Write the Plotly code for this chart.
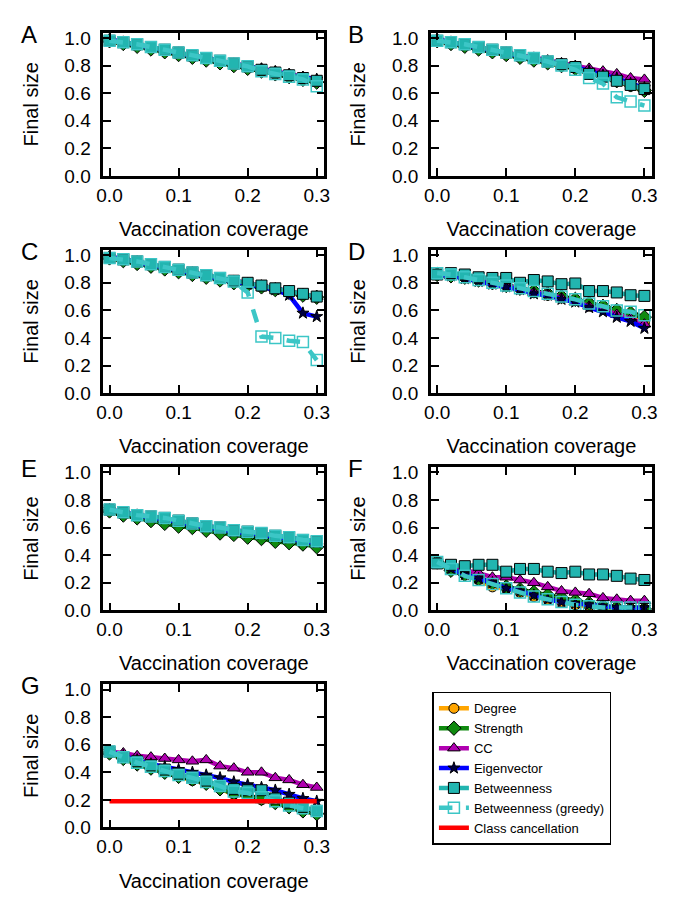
import plotly.graph_objects as go

coverage = [0.00, 0.02, 0.04, 0.06, 0.08, 0.10, 0.12, 0.14, 0.16, 0.18, 0.20, 0.22, 0.24, 0.26, 0.28, 0.30]

# Panel A
A_degree = [0.98, 0.96, 0.945, 0.925, 0.905, 0.885, 0.865, 0.845, 0.825, 0.805, 0.785, 0.765, 0.745, 0.725, 0.705, 0.69]
A_strength = [0.98, 0.96, 0.94, 0.92, 0.90, 0.88, 0.86, 0.84, 0.82, 0.80, 0.78, 0.76, 0.74, 0.72, 0.70, 0.68]
A_cc = [0.99, 0.97, 0.955, 0.935, 0.915, 0.895, 0.875, 0.855, 0.835, 0.815, 0.795, 0.78, 0.76, 0.74, 0.72, 0.70]
A_eigen = [0.99, 0.97, 0.95, 0.93, 0.91, 0.89, 0.87, 0.85, 0.83, 0.81, 0.79, 0.775, 0.755, 0.735, 0.715, 0.70]
A_betw = [0.98, 0.97, 0.955, 0.935, 0.915, 0.895, 0.875, 0.855, 0.835, 0.815, 0.795, 0.77, 0.75, 0.73, 0.71, 0.69]
A_greedy = [0.98, 0.97, 0.955, 0.935, 0.915, 0.895, 0.875, 0.855, 0.835, 0.815, 0.795, 0.76, 0.74, 0.72, 0.70, 0.65]

# Panel B
B_degree = [0.98, 0.96, 0.94, 0.92, 0.90, 0.88, 0.86, 0.84, 0.82, 0.80, 0.78, 0.75, 0.72, 0.69, 0.65, 0.62]
B_strength = [0.98, 0.96, 0.94, 0.92, 0.90, 0.88, 0.86, 0.84, 0.82, 0.80, 0.78, 0.75, 0.72, 0.69, 0.66, 0.62]
B_cc = [0.99, 0.97, 0.955, 0.935, 0.915, 0.895, 0.875, 0.86, 0.84, 0.82, 0.80, 0.78, 0.76, 0.74, 0.71, 0.70]
B_eigen = [0.99, 0.97, 0.95, 0.93, 0.91, 0.89, 0.87, 0.85, 0.83, 0.81, 0.79, 0.76, 0.73, 0.71, 0.67, 0.64]
B_betw = [0.98, 0.97, 0.955, 0.935, 0.915, 0.895, 0.875, 0.855, 0.83, 0.81, 0.79, 0.74, 0.72, 0.69, 0.66, 0.63]
B_greedy = [0.98, 0.97, 0.955, 0.935, 0.915, 0.895, 0.875, 0.855, 0.83, 0.80, 0.77, 0.71, 0.67, 0.57, 0.54, 0.51]

# Panel C
C_degree = [0.98, 0.96, 0.945, 0.925, 0.905, 0.885, 0.865, 0.845, 0.825, 0.805, 0.79, 0.775, 0.755, 0.735, 0.715, 0.70]
C_strength = [0.98, 0.96, 0.94, 0.92, 0.90, 0.88, 0.86, 0.84, 0.82, 0.80, 0.785, 0.77, 0.75, 0.73, 0.71, 0.695]
C_cc = [0.99, 0.97, 0.955, 0.935, 0.915, 0.895, 0.875, 0.855, 0.835, 0.815, 0.80, 0.78, 0.76, 0.74, 0.72, 0.70]
C_eigen = [0.99, 0.97, 0.95, 0.93, 0.91, 0.89, 0.87, 0.85, 0.83, 0.81, 0.79, 0.775, 0.75, 0.71, 0.58, 0.555]
C_betw = [0.98, 0.97, 0.955, 0.935, 0.915, 0.895, 0.875, 0.855, 0.835, 0.815, 0.80, 0.78, 0.76, 0.74, 0.72, 0.70]
C_greedy = [0.98, 0.97, 0.955, 0.935, 0.915, 0.895, 0.875, 0.855, 0.835, 0.81, 0.73, 0.41, 0.40, 0.38, 0.37, 0.24]

# Panel D
D_degree = [0.86, 0.85, 0.84, 0.82, 0.80, 0.78, 0.76, 0.73, 0.71, 0.69, 0.67, 0.63, 0.61, 0.58, 0.55, 0.51]
D_strength = [0.86, 0.85, 0.84, 0.82, 0.80, 0.78, 0.76, 0.74, 0.72, 0.70, 0.68, 0.65, 0.63, 0.60, 0.58, 0.55]
D_cc = [0.86, 0.85, 0.84, 0.82, 0.80, 0.78, 0.76, 0.73, 0.72, 0.69, 0.66, 0.63, 0.61, 0.57, 0.54, 0.50]
D_eigen = [0.86, 0.85, 0.83, 0.81, 0.79, 0.77, 0.75, 0.72, 0.71, 0.68, 0.66, 0.62, 0.59, 0.55, 0.52, 0.47]
D_betw = [0.86, 0.87, 0.86, 0.84, 0.835, 0.835, 0.80, 0.82, 0.81, 0.79, 0.795, 0.74, 0.74, 0.73, 0.71, 0.705]
D_greedy = [0.87, 0.86, 0.84, 0.82, 0.80, 0.78, 0.76, 0.74, 0.72, 0.70, 0.68, 0.65, 0.63, 0.60, 0.59, 0.565]

# Panel E
E_degree = [0.72, 0.70, 0.68, 0.66, 0.64, 0.62, 0.61, 0.59, 0.57, 0.56, 0.54, 0.53, 0.51, 0.50, 0.48, 0.47]
E_strength = [0.72, 0.69, 0.67, 0.65, 0.63, 0.61, 0.60, 0.58, 0.56, 0.55, 0.53, 0.52, 0.50, 0.49, 0.48, 0.46]
E_cc = [0.73, 0.71, 0.69, 0.68, 0.67, 0.65, 0.63, 0.61, 0.60, 0.58, 0.57, 0.56, 0.54, 0.53, 0.51, 0.50]
E_eigen = [0.73, 0.71, 0.69, 0.67, 0.66, 0.64, 0.62, 0.60, 0.59, 0.57, 0.56, 0.55, 0.53, 0.52, 0.50, 0.49]
E_betw = [0.73, 0.71, 0.69, 0.68, 0.67, 0.65, 0.63, 0.61, 0.60, 0.58, 0.57, 0.56, 0.54, 0.53, 0.51, 0.50]
E_greedy = [0.73, 0.71, 0.69, 0.68, 0.67, 0.65, 0.63, 0.61, 0.60, 0.58, 0.57, 0.56, 0.54, 0.53, 0.51, 0.50]

# Panel F
F_degree = [0.35, 0.29, 0.26, 0.22, 0.17, 0.16, 0.13, 0.10, 0.08, 0.06, 0.04, 0.03, 0.02, 0.01, 0.01, 0.01]
F_strength = [0.35, 0.29, 0.26, 0.23, 0.20, 0.17, 0.15, 0.13, 0.11, 0.09, 0.07, 0.05, 0.03, 0.02, 0.01, 0.01]
F_cc = [0.35, 0.31, 0.29, 0.27, 0.24, 0.24, 0.22, 0.20, 0.17, 0.14, 0.13, 0.12, 0.09, 0.08, 0.07, 0.07]
F_eigen = [0.35, 0.30, 0.26, 0.23, 0.20, 0.16, 0.14, 0.11, 0.08, 0.06, 0.05, 0.04, 0.03, 0.02, 0.02, 0.02]
F_betw = [0.34, 0.33, 0.32, 0.33, 0.33, 0.28, 0.30, 0.30, 0.28, 0.27, 0.28, 0.26, 0.26, 0.25, 0.23, 0.22]
F_greedy = [0.35, 0.30, 0.25, 0.22, 0.19, 0.16, 0.13, 0.10, 0.08, 0.06, 0.04, 0.03, 0.02, 0.02, 0.02, 0.02]

# Panel G
G_degree = [0.54, 0.50, 0.46, 0.43, 0.40, 0.37, 0.34, 0.32, 0.28, 0.24, 0.23, 0.20, 0.18, 0.15, 0.12, 0.10]
G_strength = [0.54, 0.50, 0.46, 0.43, 0.40, 0.37, 0.35, 0.32, 0.28, 0.25, 0.23, 0.21, 0.18, 0.15, 0.12, 0.10]
G_cc = [0.55, 0.54, 0.52, 0.51, 0.50, 0.49, 0.48, 0.49, 0.445, 0.43, 0.40, 0.40, 0.36, 0.345, 0.31, 0.29]
G_eigen = [0.55, 0.52, 0.49, 0.46, 0.44, 0.42, 0.40, 0.38, 0.36, 0.33, 0.31, 0.29, 0.27, 0.24, 0.21, 0.19]
G_betw = [0.55, 0.51, 0.48, 0.45, 0.42, 0.39, 0.36, 0.34, 0.30, 0.28, 0.27, 0.27, 0.21, 0.18, 0.15, 0.12]
G_greedy = [0.55, 0.51, 0.47, 0.44, 0.41, 0.38, 0.36, 0.33, 0.30, 0.26, 0.25, 0.22, 0.19, 0.16, 0.14, 0.12]
G_class_cancel = [0.19, 0.19, 0.19, 0.19, 0.19, 0.19, 0.19, 0.19, 0.19, 0.19, 0.19, 0.19, 0.19, 0.19, 0.19, 0.19]

panel_labels = ["A", "B", "C", "D", "E", "F", "G"]
series_names = ["Degree", "Strength", "CC", "Eigenvector", "Betweenness", "Betweenness (greedy)"]
panel_data = {
    "A": [A_degree, A_strength, A_cc, A_eigen, A_betw, A_greedy],
    "B": [B_degree, B_strength, B_cc, B_eigen, B_betw, B_greedy],
    "C": [C_degree, C_strength, C_cc, C_eigen, C_betw, C_greedy],
    "D": [D_degree, D_strength, D_cc, D_eigen, D_betw, D_greedy],
    "E": [E_degree, E_strength, E_cc, E_eigen, E_betw, E_greedy],
    "F": [F_degree, F_strength, F_cc, F_eigen, F_betw, F_greedy],
    "G": [G_degree, G_strength, G_cc, G_eigen, G_betw, G_greedy],
}
x_ticks = [0.0, 0.1, 0.2, 0.3]
y_ticks = [0.0, 0.2, 0.4, 0.6, 0.8, 1.0]

TEAL = "#22B5B0"
GREEDY = "#3CC6C6"
styles = [
    dict(line=dict(color="#FFA500", width=4.5), marker=dict(symbol="circle", size=10, color="#FFA500", line=dict(color="black", width=1))),
    dict(line=dict(color="#108A10", width=4.5), marker=dict(symbol="diamond", size=11, color="#108A10", line=dict(color="black", width=1))),
    dict(line=dict(color="#B000B0", width=4.5), marker=dict(symbol="triangle-up", size=11, color="#B000B0", line=dict(color="black", width=1))),
    dict(line=dict(color="#0000FF", width=4.5), marker=dict(symbol="star", size=9, color="#000040", line=dict(color="black", width=1))),
    dict(line=dict(color=TEAL, width=4.5), marker=dict(symbol="square", size=11, color=TEAL, line=dict(color="black", width=1))),
    dict(line=dict(color=GREEDY, width=4.5, dash="dash"), marker=dict(symbol="square-open", size=11, color=GREEDY, line=dict(color=GREEDY, width=1.5))),
]

FONT = "Liberation Sans, Arial, sans-serif"
W, H = 685, 923
col_x = [(98, 323), (431.5, 656.5)]
row_top = [28, 249, 470, 691]
PH = 146

fig = go.Figure()
layout = {}
annotations = []
for i, p in enumerate(panel_labels):
    r, c = divmod(i, 2)
    n = "" if i == 0 else str(i + 1)
    xa, ya = "x" + n, "y" + n
    for k, (name, ys) in enumerate(zip(series_names, panel_data[p])):
        fig.add_trace(go.Scatter(x=coverage, y=ys, mode="lines+markers", name=name,
                                 xaxis=xa, yaxis=ya, showlegend=(p == "G"),
                                 legendrank=k + 1, **styles[k]))
    if p == "G":
        fig.add_trace(go.Scatter(x=coverage, y=G_class_cancel, mode="lines", name="Class cancellation",
                                 xaxis=xa, yaxis=ya, showlegend=True, legendrank=7,
                                 line=dict(color="#FF0000", width=4.5)))
    x0, x1 = col_x[c]
    top = row_top[r]
    axis_common = dict(showline=True, linecolor="black", linewidth=2.5, mirror="ticks",
                       ticks="inside", ticklen=8, tickwidth=1.5, tickcolor="black",
                       showgrid=False, zeroline=False, tickfont=dict(size=19, color="black", family=FONT),
                       title_font=dict(size=20, color="black", family=FONT))
    layout["xaxis" + n] = dict(axis_common, domain=[x0 / W, x1 / W], range=[-0.009, 0.311],
                               tickvals=x_ticks, tickformat=".1f", anchor=ya,
                               title=dict(text="Vaccination coverage", standoff=18),
                               ticklabelstandoff=0)
    layout["yaxis" + n] = dict(axis_common, domain=[1 - (top + PH) / H, 1 - top / H], range=[0, 1.04],
                               tickvals=y_ticks, tickformat=".1f", anchor=xa,
                               title=dict(text="Final size", standoff=21),
                               ticklabelstandoff=6)
    annotations.append(dict(text=p, x=(x0 - 86) / W, y=1 - (top - 14) / H, xref="paper", yref="paper",
                            xanchor="left", yanchor="top", showarrow=False,
                            font=dict(size=24, color="black", family=FONT)))

fig.update_layout(
    width=W, height=H,
    margin=dict(l=0, r=0, t=0, b=0),
    paper_bgcolor="white", plot_bgcolor="white",
    font=dict(family=FONT, color="black"),
    annotations=annotations,
    legend=dict(x=433 / W, y=1 - 699 / H, xanchor="left", yanchor="top",
                bordercolor="black", borderwidth=1.5, bgcolor="white",
                font=dict(size=13, family=FONT, color="black"), itemwidth=30,
                traceorder="normal"),
    **layout,
)

fig.write_html("out.html", config={"displayModeBar": False},
               post_script="document.body.style.margin='0';")
